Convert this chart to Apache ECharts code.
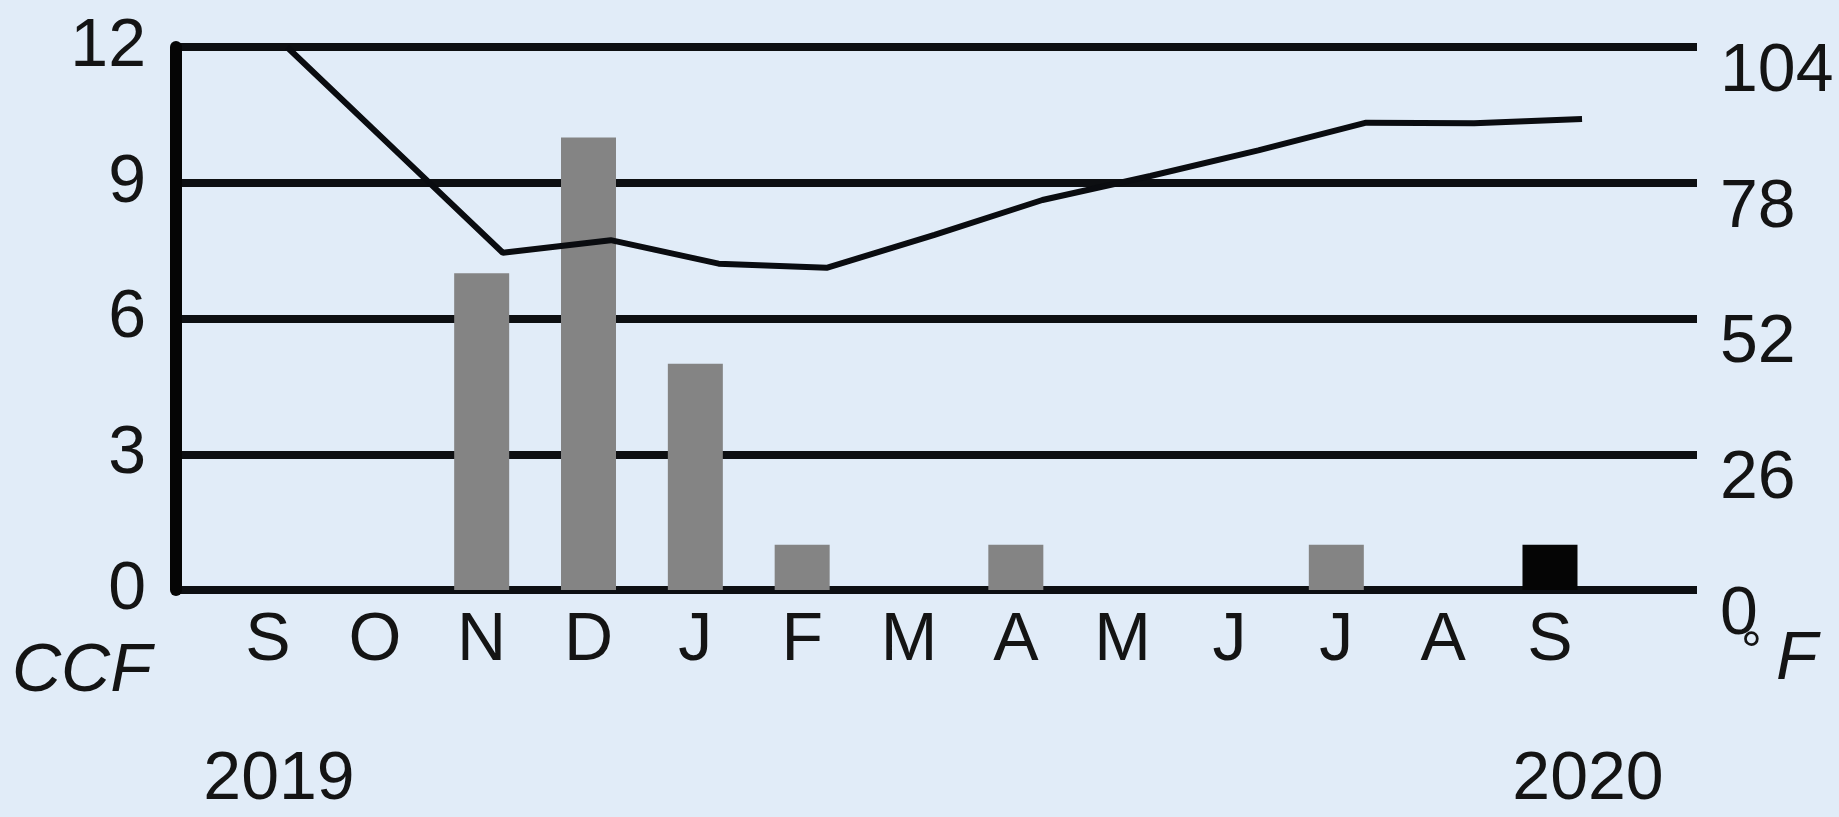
<!DOCTYPE html>
<html><head><meta charset="utf-8">
<script src="https://cdn.jsdelivr.net/npm/echarts@6/dist/echarts.min.js"></script>
<style>html,body{margin:0;padding:0;background:#e1ecf8;}#c{width:1839px;height:817px;}</style>
</head><body><div id="c"></div>
<script>
const months = ['S','O','N','D','J','F','M','A','M','J','J','A','S'];
const ccfValues = [0,0,7,10,5,1,0,1,0,0,1,0,1];
const tempValues = [104,84.3,64.6,67,62.5,61.7,68,74.7,79.3,84.2,89.5,89.4,90.2];
const leftTicks = [0,3,6,9,12];
const rightTicks = [0,26,52,78,104];
const yearLabels = ['2019','2020'];
const highlightIndex = 12;

const FONT = "'Liberation Sans',Arial,sans-serif";
const TXT = '#141414';
const FS = 68;

const chart = echarts.init(document.getElementById('c'), null, {renderer:'canvas'});
const barData = ccfValues.map((v,i)=> i===highlightIndex ? {value:v, itemStyle:{color:'#050505'}} : v);

const option = {
  backgroundColor:'#e1ecf8',
  animation:false,
  grid:[
    {left:176, right:142, top:47, bottom:227},
    {left:214.6, right:235.6, top:47, bottom:227},
    {left:233, right:203, top:47, bottom:227}
  ],
  xAxis:[
    {type:'category', gridIndex:0, data:months, show:false},
    {type:'category', gridIndex:1, data:months, boundaryGap:true,
      axisLine:{show:false}, axisTick:{show:false}, splitLine:{show:false},
      axisLabel:{show:true, interval:0, margin:17, color:TXT, fontSize:FS, fontFamily:FONT}},
    {type:'category', gridIndex:2, data:months, show:false}
  ],
  yAxis:[
    {type:'value', gridIndex:0, position:'left', min:0, max:12, interval:3,
      axisLine:{show:true, lineStyle:{color:'#050505', width:12}},
      axisTick:{show:false},
      splitLine:{show:true, lineStyle:{color:'#0d0f12', width:8}},
      axisLabel:{margin:30, color:TXT, fontSize:FS, fontFamily:FONT,
        formatter:v=> leftTicks.includes(v) ? String(v) : ''}},
    {type:'value', gridIndex:0, position:'right', min:0, max:104, interval:26,
      axisLine:{show:false}, axisTick:{show:false}, splitLine:{show:false},
      axisLabel:{margin:23, color:TXT, fontSize:FS, fontFamily:FONT, verticalAlign:'top', lineHeight:50,
        formatter:v=> rightTicks.includes(v) ? String(v) : ''}},
    {type:'value', gridIndex:1, min:0, max:12, show:false},
    {type:'value', gridIndex:2, min:0, max:104, show:false}
  ],
  series:[
    {type:'bar', xAxisIndex:1, yAxisIndex:2, data:barData, barWidth:55,
      itemStyle:{color:'#848484'}, z:3},
    {type:'line', xAxisIndex:2, yAxisIndex:3, data:tempValues, symbol:'none',
      clip:false, lineStyle:{color:'#0a0c10', width:6}, z:4}
  ],
  graphic:[
    {type:'text', left:12, top:638, style:{text:'CCF', fill:TXT, font:'italic 68px '+FONT}},
    {type:'text', left:1741, top:628, style:{text:'°', fill:TXT, font:'52px '+FONT}},
    {type:'text', left:1776, top:626, style:{text:'F', fill:TXT, font:'italic 68px '+FONT}},
    {type:'text', x:279, y:780, style:{text:yearLabels[0], fill:TXT, font:FS+'px '+FONT, align:'center', verticalAlign:'middle'}},
    {type:'text', x:1588, y:780, style:{text:yearLabels[1], fill:TXT, font:FS+'px '+FONT, align:'center', verticalAlign:'middle'}}
  ]
};
chart.setOption(option);
</script>
</body></html>
